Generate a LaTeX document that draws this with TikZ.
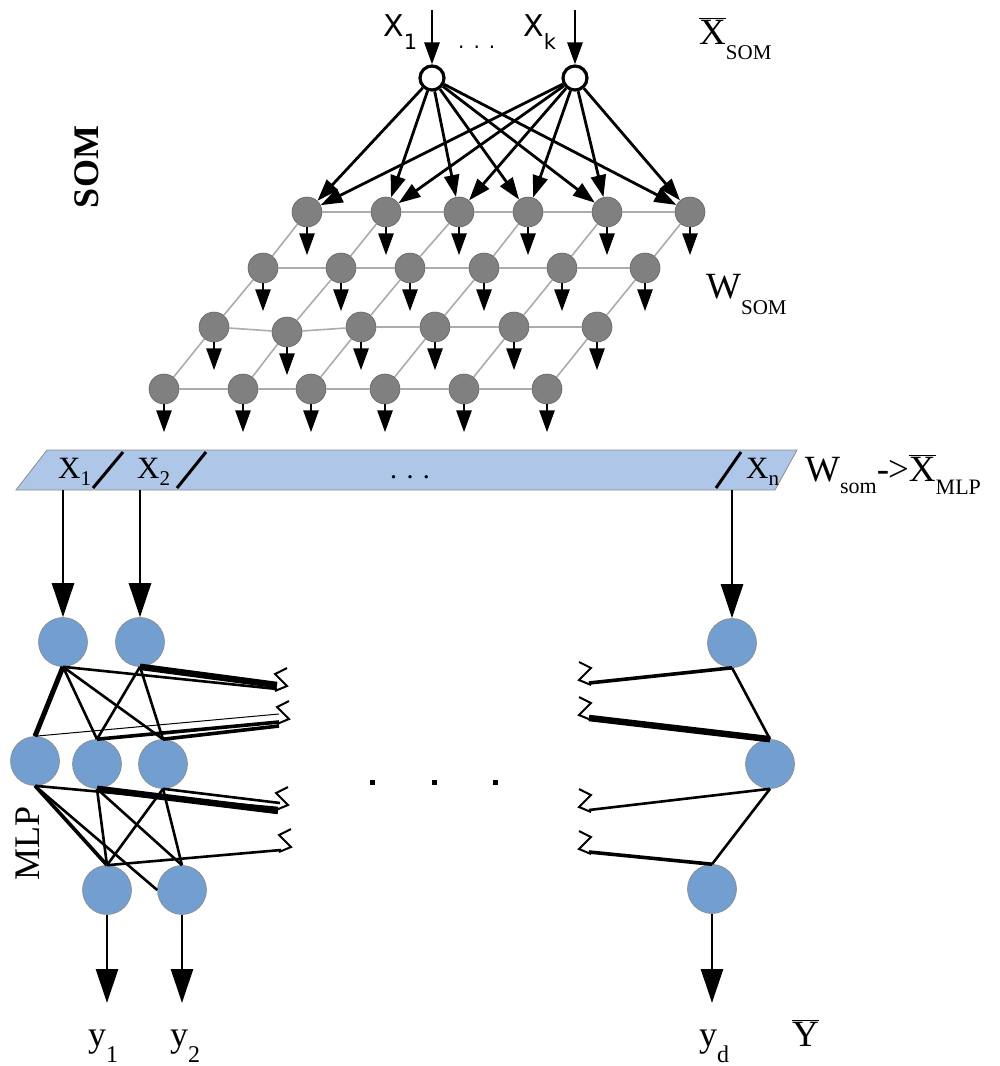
\documentclass[tikz,border=0pt]{standalone}
\usepackage{fontspec}
\setmainfont{Liberation Serif}
\newfontfamily\sansf{DejaVu Sans}
\usetikzlibrary{arrows.meta}
\definecolor{mlpblue}{RGB}{114,159,207}
\definecolor{bandblue}{RGB}{174,198,232}
\definecolor{somgray}{RGB}{128,128,128}
\definecolor{gridgray}{RGB}{172,172,172}
\newcommand{\fsz}[1]{\fontsize{#1}{#1}\selectfont}
\newcommand{\zigR}[1]{\draw[line width=2pt,line join=miter] (#1) ++(-2,2) -- ++(12,-5) -- ++(-12,-12) -- ++(12,-6);}
\newcommand{\zigL}[1]{\draw[line width=2pt,line join=miter] (#1) ++(2,2) -- ++(-12,-5) -- ++(12,-12) -- ++(-12,-6);}
\begin{document}
\begin{tikzpicture}[x=1pt,y=-1pt,
  somn/.style={circle,fill=somgray,draw=black!60,line width=0.6pt,minimum size=30pt,inner sep=0},
  inn/.style={circle,fill=white,draw=black,line width=3.2pt,minimum size=24pt,inner sep=0},
  mlpn/.style={circle,fill=mlpblue,draw=black!45,line width=0.6pt,minimum size=49pt,inner sep=0},
  bigarr/.style={line width=2.6pt,-{Triangle[length=34pt,width=22pt]}},
  smarr/.style={line width=2.8pt,-{Triangle[length=22pt,width=15pt]}},
  gridln/.style={draw=gridgray,line width=1.6pt},
  lbl/.style={inner sep=0,anchor=base west},
  ewa/.style={line width=1pt},
  ewb/.style={line width=2.6pt},
  ewc/.style={line width=3.6pt},
  ewd/.style={line width=5pt},
  ewe/.style={line width=6.5pt}]
\fill[white] (0,0) rectangle (1000,1066);
\useasboundingbox (0,0) rectangle (1000,1066);

% ---------- SOM ----------
\node[inn] (in1) at (432,78) {};
\node[inn] (in2) at (575,78) {};
\coordinate (t1) at (432,10);
\coordinate (t2) at (575,10);
\draw[smarr] (t1) -- (in1.north);
\draw[smarr] (t2) -- (in2.north);

\node[somn] (s11) at (307,212) {};
\node[somn] (s12) at (386,212) {};
\node[somn] (s13) at (459,212) {};
\node[somn] (s14) at (528,212) {};
\node[somn] (s15) at (607,212) {};
\node[somn] (s16) at (690,212) {};
\node[somn] (s21) at (263,268) {};
\node[somn] (s22) at (341,268) {};
\node[somn] (s23) at (410,268) {};
\node[somn] (s24) at (484,268) {};
\node[somn] (s25) at (562,268) {};
\node[somn] (s26) at (645,268) {};
\node[somn] (s31) at (214,327) {};
\node[somn] (s32) at (287,332) {};
\node[somn] (s33) at (361,327) {};
\node[somn] (s34) at (435,327) {};
\node[somn] (s35) at (514,327) {};
\node[somn] (s36) at (597,327) {};
\node[somn] (s41) at (164,389) {};
\node[somn] (s42) at (243,389) {};
\node[somn] (s43) at (311,389) {};
\node[somn] (s44) at (385,389) {};
\node[somn] (s45) at (464,389) {};
\node[somn] (s46) at (547,389) {};

\foreach \r in {1,...,4}{
  \foreach \c [evaluate=\c as \n using int(\c+1)] in {1,...,5}{
    \draw[gridln] (s\r\c) -- (s\r\n);}}
\foreach \r [evaluate=\r as \n using int(\r+1)] in {1,2,3}{
  \foreach \c in {1,...,6}{
    \draw[gridln] (s\r\c) -- (s\n\c);}}
\foreach \r in {1,...,4}{
  \foreach \c in {1,...,6}{
    \draw[smarr] (s\r\c.south) -- ++(0,28);}}
\foreach \c in {1,...,6}{
  \draw[smarr] (in1) -- (s1\c);
  \draw[smarr] (in2) -- (s1\c);}

\node[lbl] (lx1) at (383,36) {\sansf\fsz{30}X\raisebox{-13pt}{\fsz{21}1}};
\node[lbl] (ldots) at (458,48) {\sansf\fsz{20}.\hspace{9pt}.\hspace{9pt}.};
\node[lbl] (lxk) at (523,36) {\sansf\fsz{30}X\raisebox{-13pt}{\fsz{21}k}};
\node[lbl] (lxsom) at (699,44) {\fsz{37}$\overline{\mbox{X}}$\raisebox{-15pt}{\fsz{21}SOM}};
\node[lbl] (lwsom) at (706,298) {\fsz{37}W\raisebox{-16pt}{\fsz{21}SOM}};
\node[rotate=90,font=\bfseries\fsz{36}] (lsom) at (87,167) {SOM};

% ---------- band ----------
\fill[bandblue,draw=black!45,line width=0.8pt] (47,450) -- (797,450) -- (775,490) -- (16,490) -- cycle;
\draw[line width=3pt] (123,452) -- (93,488);
\draw[line width=3pt] (206,452) -- (177,488);
\draw[line width=3pt] (741,452) -- (716,488);
\node[lbl] (bx1) at (58,478) {\fsz{31}X\raisebox{-7pt}{\fsz{21}1}};
\node[lbl] (bx2) at (137,478) {\fsz{31}X\raisebox{-7pt}{\fsz{21}2}};
\node[lbl] (bdots) at (390,478) {\fsz{28}. . .};
\node[lbl] (bxn) at (746,478) {\fsz{31}X\raisebox{-7pt}{\fsz{21}n}};
\node[lbl] (lmap) at (805,481) {\fsz{37}W\raisebox{-12pt}{\fsz{22}som}-\kern-1pt>$\overline{\mbox{X}}$\raisebox{-13pt}{\fsz{22}MLP}};

% ---------- MLP ----------
\node[mlpn] (a1) at (63,642) {};
\node[mlpn] (a2) at (140,642) {};
\node[mlpn] (ar) at (732,643) {};
\node[mlpn] (b1) at (35,761) {};
\node[mlpn] (b2) at (97,764) {};
\node[mlpn] (b3) at (163,764) {};
\node[mlpn] (br) at (770,764) {};
\node[mlpn] (c1) at (107,890) {};
\node[mlpn] (c2) at (182,890) {};
\node[mlpn] (cr) at (712,889) {};

\coordinate (u1) at (63,490);
\coordinate (u2) at (140,490);
\coordinate (un) at (732,490);
\draw[bigarr] (u1) -- (a1.north);
\draw[bigarr] (u2) -- (a2.north);
\draw[bigarr] (un) -- (ar.north);

\coordinate (y1t) at (107,1003);
\coordinate (y2t) at (182,1003);
\coordinate (ydt) at (712,1003);
\draw[bigarr] (c1.south) -- (y1t);
\draw[bigarr] (c2.south) -- (y2t);
\draw[bigarr] (cr.south) -- (ydt);

% left zig points
\coordinate (zA1) at (277,689);
\coordinate (zA2) at (277,685);
\coordinate (zB1) at (279,714);
\coordinate (zB2) at (279,722);
\coordinate (zB3) at (279,726);
\coordinate (zC1) at (278,808);
\coordinate (zC2) at (278,811);
\coordinate (zC3) at (280,803);
\coordinate (zD1) at (281,850);
% right zig points
\coordinate (zE) at (589,683);
\coordinate (zF) at (589,718);
\coordinate (zG) at (589,810);
\coordinate (zH) at (589,852);

\draw[ewd] (a1.south) -- (b1.north);
\draw[ewb] (a1.south) -- (b2.north);
\draw[ewb] (a1.south) -- (b3.north);
\draw[ewb] (a2.south) -- (b2.north);
\draw[ewb] (a2.south) -- (b3.north);
\draw[ewb] (a1.south) -- (zA1);
\draw[ewe] (a2.south) -- (zA2);
\draw[ewa] (b1.north) -- (zB1);
\draw[ewc] (b2.north) -- (zB2);
\draw[ewc] (b3.north) -- (zB3);

\draw[ewc] (b1.south) -- (c1.north);
\draw[ewb] (b1.south) -- (c2.west);
\draw[ewb] (b2.south) -- (c1.north);
\draw[ewb] (b2.south) -- (c2.north);
\draw[ewb] (b3.south) -- (c1.north);
\draw[ewb] (b3.south) -- (c2.north);
\draw[ewb] (b1.south) -- (zC1);
\draw[ewe] (b2.south) -- (zC2);
\draw[ewb] (b3.south) -- (zC3);
\draw[ewb] (c1.north) -- (zD1);

\draw[ewc] (ar.south) -- (zE);
\draw[ewb] (ar.south) -- (br.north);
\draw[ewe] (br.north) -- (zF);
\draw[ewb] (br.south) -- (zG);
\draw[ewb] (br.south) -- (cr.north);
\draw[ewc] (cr.north) -- (zH);

\zigR{zA1}
\zigR{zB2}
\zigR{zC1}
\zigR{zD1}
\zigL{zE}
\zigL{zF}
\zigL{zG}
\zigL{zH}

\fill (370,780) rectangle ++(5,5);
\fill (432,780) rectangle ++(5,5);
\fill (493,780) rectangle ++(5,5);

\node[rotate=90,font=\fsz{36}] (lmlp) at (28,843) {MLP};

\node[lbl] (ly1) at (88,1046) {\fsz{36}y\raisebox{-16pt}{\fsz{24}1}};
\node[lbl] (ly2) at (170,1046) {\fsz{36}y\raisebox{-16pt}{\fsz{24}2}};
\node[lbl] (lyd) at (699,1046) {\fsz{36}y\raisebox{-16pt}{\fsz{24}d}};
\node[lbl] (lY) at (792,1046) {\fsz{37}$\overline{\mbox{Y}}$};
\end{tikzpicture}
\end{document}
